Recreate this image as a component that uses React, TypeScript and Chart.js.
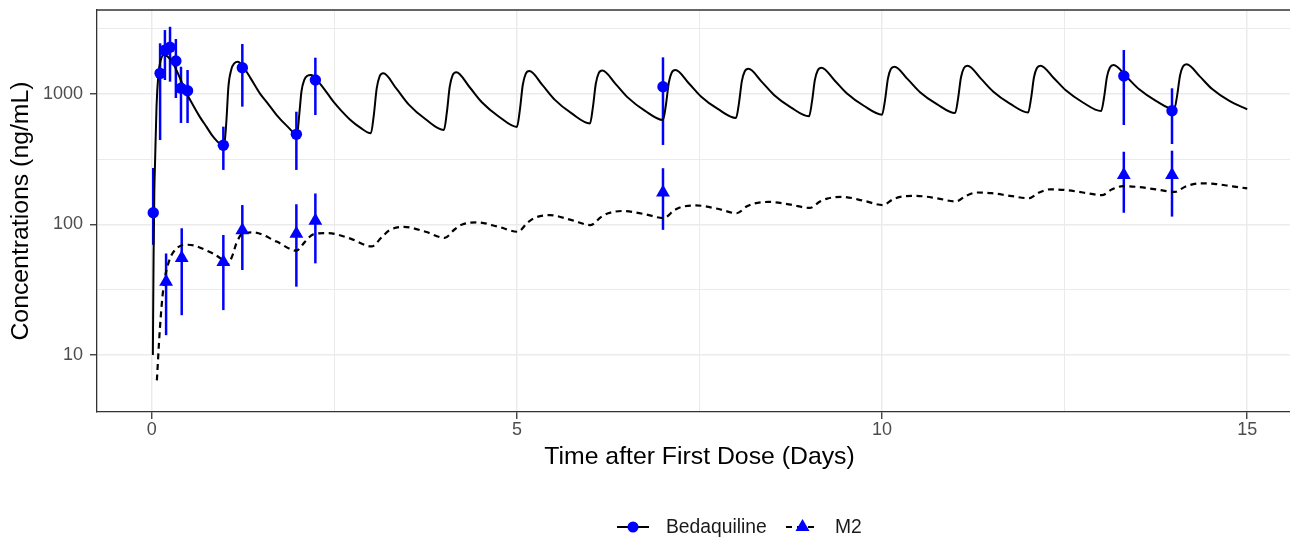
import React, { useEffect, useRef } from "react";
import { Chart, registerables } from "chart.js";

Chart.register(...registerables);

// ---- Simulated (model) profiles ----
const bdqModelTime = [
  0.015, 0.025, 0.035, 0.045, 0.065, 0.09, 0.12, 0.17, 0.22, 0.29, 0.38, 0.46, 0.56, 0.66, 0.75, 0.84, 0.99,
  1.02, 1.05, 1.09, 1.13, 1.18, 1.25, 1.35, 1.48, 1.6, 1.71, 1.85, 1.99,
  2.02, 2.05, 2.09, 2.13, 2.18, 2.3, 2.4, 2.49, 2.6, 2.72, 2.85,
  3, 3.04, 3.08, 3.12, 3.17, 3.35, 3.52, 3.75,
  4, 4.04, 4.08, 4.12, 4.17, 4.35, 4.52, 4.75,
  5, 5.04, 5.08, 5.12, 5.17, 5.35, 5.52, 5.75,
  6, 6.04, 6.08, 6.12, 6.17, 6.35, 6.52, 6.75,
  7, 7.04, 7.08, 7.12, 7.17, 7.35, 7.52, 7.75,
  8, 8.04, 8.08, 8.12, 8.17, 8.35, 8.52, 8.75,
  9, 9.04, 9.08, 9.12, 9.17, 9.35, 9.52, 9.75,
  10, 10.04, 10.08, 10.12, 10.17, 10.35, 10.52, 10.75,
  11, 11.04, 11.08, 11.12, 11.17, 11.35, 11.52, 11.75,
  12, 12.04, 12.08, 12.12, 12.17, 12.35, 12.52, 12.75,
  13, 13.04, 13.08, 13.12, 13.17, 13.35, 13.52, 13.75,
  14, 14.04, 14.08, 14.12, 14.17, 14.35, 14.52, 14.75,
  15,
];
const bdqModelConc = [
  10, 60, 180, 300, 800, 1400, 1800, 2000, 1930, 1720, 1350, 1060, 830, 665, 560, 471, 400,
  600, 1150, 1550, 1720, 1770, 1620, 1330, 1012, 830, 690, 570, 490,
  700, 1050, 1290, 1380, 1400, 1207, 1020, 870, 740, 632, 555,
  500, 687, 1104, 1365, 1440, 1099, 830, 640,
  530, 719, 1138, 1396, 1470, 1132, 865, 673,
  560, 752, 1172, 1429, 1500, 1169, 902, 710,
  595, 789, 1199, 1445, 1515, 1197, 938, 746,
  632, 824, 1225, 1462, 1527, 1216, 959, 769,
  655, 849, 1256, 1493, 1560, 1245, 984, 791,
  675, 873, 1282, 1521, 1590, 1271, 1009, 813,
  695, 895, 1312, 1556, 1620, 1300, 1033, 836,
  714, 918, 1337, 1578, 1645, 1318, 1047, 845,
  722, 925, 1343, 1581, 1650, 1327, 1062, 861,
  740, 944, 1358, 1596, 1665, 1349, 1086, 887,
  765, 971, 1387, 1626, 1690, 1365, 1091, 889,
  763,
];

const m2ModelTime = [
  0.07, 0.11, 0.16, 0.23, 0.32, 0.5, 0.73, 0.94,
  1.03, 1.1, 1.16, 1.25, 1.39, 1.71,
  1.98, 2.1, 2.21, 2.4, 2.72,
  3.01, 3.15, 3.25, 3.45, 3.75,
  4.01, 4.15, 4.25, 4.45, 4.75,
  5.01, 5.15, 5.25, 5.45, 5.75,
  6.01, 6.15, 6.25, 6.45, 6.75,
  7.01, 7.15, 7.25, 7.45, 7.75,
  8.01, 8.15, 8.25, 8.45, 8.75,
  9.01, 9.15, 9.25, 9.45, 9.75,
  10.01, 10.15, 10.25, 10.45, 10.75,
  11.01, 11.15, 11.3, 11.5, 11.75,
  12.01, 12.15, 12.3, 12.5, 12.75,
  13.01, 13.15, 13.3, 13.5, 13.75,
  14.01, 14.15, 14.35, 14.55, 14.8,
  15,
];
const m2ModelConc = [
  6.4, 15.6, 33, 51, 64, 70, 64, 55,
  49, 57, 72, 86, 87, 74,
  63, 74, 84, 86, 78,
  68, 80, 90, 96, 88,
  79, 92, 100, 104, 96,
  88, 104, 113, 118, 108,
  99, 114, 122, 127, 120,
  112, 128, 136, 140, 132,
  122, 138, 145, 149, 142,
  134, 150, 158, 163, 152,
  141, 156, 163, 166, 159,
  150, 166, 176, 174, 166,
  159, 176, 186, 184, 176,
  168, 186, 197, 194, 186,
  178, 195, 207, 205, 196,
  189,
];

// ---- Observed data (mean with error bars) ----
const bdqObsTime = [0.02, 0.114, 0.18, 0.25, 0.33, 0.4, 0.49, 0.98, 1.24, 1.98, 2.24, 7.0, 13.31, 13.97];
const bdqObsMean = [123, 1440, 2170, 2280, 1790, 1106, 1060, 405, 1590, 491, 1280, 1137, 1374, 745];
const bdqObsLow = [70, 444, 1280, 1243, 932, 600, 600, 262, 800, 262, 690, 407, 579, 414];
const bdqObsHigh = [271, 2446, 3090, 3275, 2640, 1618, 1527, 562, 2418, 732, 1898, 1910, 2173, 1106];

const m2ObsTime = [0.196, 0.41, 0.98, 1.24, 1.98, 2.24, 7.0, 13.31, 13.97];
const m2ObsMean = [36.5, 55.4, 51.6, 90.3, 85, 107, 176, 240, 240];
const m2ObsLow = [14.2, 20.2, 22.1, 44.8, 33.4, 50.4, 91, 123, 115];
const m2ObsHigh = [60, 93.6, 83.1, 141, 143, 173, 270, 361, 368];

// ---- Axes ----
const xTickValues = [0, 2.5, 5, 7.5, 10, 12.5, 15];
const xMajorTicks = [0, 5, 10, 15];
const yTickValues = [10, 31.62, 100, 316.2, 1000, 3162];
const yMajorTicks = [10, 100, 1000];

const xTitle = "Time after First Dose (Days)";
const yTitle = "Concentrations (ng/mL)";
const seriesNames = ["Bedaquiline", "M2"];

const FONT = "'Liberation Sans', Arial, Helvetica, sans-serif";
const BLUE = "#0000ff";

const isIn = (list: number[], v: number) => list.some((m) => Math.abs(m - v) < 1e-6);

const errorBarPlugin = {
  id: "errorBars",
  beforeDatasetsDraw(chart: any) {
    const { ctx, scales } = chart;
    const x = scales.x;
    const y = scales.y;
    ctx.save();
    ctx.strokeStyle = BLUE;
    ctx.lineWidth = 2.5;
    const draw = (ts: number[], lo: number[], hi: number[]) => {
      ts.forEach((t, i) => {
        const px = x.getPixelForValue(t);
        ctx.beginPath();
        ctx.moveTo(px, y.getPixelForValue(lo[i]));
        ctx.lineTo(px, y.getPixelForValue(hi[i]));
        ctx.stroke();
      });
    };
    draw(bdqObsTime, bdqObsLow, bdqObsHigh);
    draw(m2ObsTime, m2ObsLow, m2ObsHigh);
    ctx.restore();
  },
};

const topBorderPlugin = {
  id: "topBorder",
  afterDraw(chart: any) {
    const { ctx, chartArea } = chart;
    ctx.save();
    ctx.strokeStyle = "#333333";
    ctx.lineWidth = 1.3;
    ctx.beginPath();
    ctx.moveTo(chartArea.left, chartArea.top);
    ctx.lineTo(chartArea.right + 2, chartArea.top);
    ctx.stroke();
    ctx.restore();
  },
};

export default function App() {
  const canvasRef = useRef<HTMLCanvasElement | null>(null);

  useEffect(() => {
    if (!canvasRef.current) return;
    const chart = new Chart(canvasRef.current, {
      type: "scatter",
      data: {
        datasets: [
          {
            label: seriesNames[0],
            data: bdqObsTime.map((t, i) => ({ x: t, y: bdqObsMean[i] })),
            showLine: false,
            pointStyle: "circle",
            pointRadius: 5.7,
            backgroundColor: BLUE,
            borderColor: BLUE,
            borderWidth: 0,
            order: 0,
          },
          {
            label: seriesNames[1],
            data: m2ObsTime.map((t, i) => ({ x: t, y: m2ObsMean[i] })),
            showLine: false,
            pointStyle: "triangle",
            pointRadius: 8,
            backgroundColor: BLUE,
            borderColor: BLUE,
            borderWidth: 0,
            order: 0,
          },
          {
            label: seriesNames[0] + " model",
            data: bdqModelTime.map((t, i) => ({ x: t, y: bdqModelConc[i] })),
            showLine: true,
            pointRadius: 0,
            borderColor: "#000000",
            borderWidth: 2,
            cubicInterpolationMode: "monotone",
            order: 1,
          },
          {
            label: seriesNames[1] + " model",
            data: m2ModelTime.map((t, i) => ({ x: t, y: m2ModelConc[i] })),
            showLine: true,
            pointRadius: 0,
            borderColor: "#000000",
            borderWidth: 2.2,
            borderDash: [6, 4.5],
            cubicInterpolationMode: "monotone",
            order: 1,
          },
        ],
      },
      options: {
        responsive: true,
        maintainAspectRatio: false,
        animation: false,
        events: [],
        layout: { autoPadding: false, padding: { top: 10, left: 0, right: 0, bottom: 0 } },
        plugins: {
          legend: { display: false },
          tooltip: { enabled: false },
        },
        scales: {
          x: {
            type: "linear",
            min: -0.75,
            max: 15.75,
            afterBuildTicks: (scale: any) => {
              scale.ticks = xTickValues.map((v) => ({ value: v }));
            },
            afterFit: (scale: any) => {
              scale.height = 128;
              scale.paddingLeft = 0;
              scale.paddingRight = 0;
              scale.paddingTop = 0;
              scale.paddingBottom = 0;
            },
            ticks: {
              autoSkip: false,
              maxRotation: 0,
              padding: 2.5,
              color: "#4d4d4d",
              font: { family: FONT, size: 18, lineHeight: 1 },
              callback: (v: any) => (isIn(xMajorTicks, Number(v)) ? String(v) : ""),
            },
            grid: {
              color: "#ebebeb",
              lineWidth: (ctx: any) => (ctx.tick && isIn(xMajorTicks, ctx.tick.value) ? 1.5 : 1),
              tickColor: (ctx: any) =>
                ctx.tick && isIn(xMajorTicks, ctx.tick.value) ? "#333333" : "rgba(0,0,0,0)",
              tickLength: 7,
              tickWidth: 1.3,
            },
            border: { display: true, color: "#333333", width: 1.3 },
            title: {
              display: true,
              text: xTitle,
              color: "#000000",
              font: { family: FONT, size: 24.8 },
              padding: { top: 0, bottom: 68 },
            },
          },
          y: {
            type: "logarithmic",
            min: 3.66,
            max: 4403,
            afterBuildTicks: (scale: any) => {
              scale.ticks = yTickValues.map((v) => ({ value: v }));
            },
            afterFit: (scale: any) => {
              scale.width = 97;
              scale.paddingLeft = 0;
              scale.paddingRight = 0;
              scale.paddingTop = 0;
              scale.paddingBottom = 0;
            },
            ticks: {
              autoSkip: false,
              padding: 7,
              color: "#4d4d4d",
              font: { family: FONT, size: 18, lineHeight: 1 },
              callback: (v: any) => (isIn(yMajorTicks, Number(v)) ? String(v) : ""),
            },
            grid: {
              color: "#ebebeb",
              lineWidth: (ctx: any) => (ctx.tick && isIn(yMajorTicks, ctx.tick.value) ? 1.5 : 1),
              tickColor: (ctx: any) =>
                ctx.tick && isIn(yMajorTicks, ctx.tick.value) ? "#333333" : "rgba(0,0,0,0)",
              tickLength: 7,
              tickWidth: 1.3,
            },
            border: { display: true, color: "#333333", width: 1.3 },
            title: {
              display: true,
              text: yTitle,
              color: "#000000",
              font: { family: FONT, size: 24.8 },
              padding: { top: 6.5, bottom: 0 },
            },
          },
        },
      } as any,
      plugins: [errorBarPlugin, topBorderPlugin],
    } as any);
    return () => chart.destroy();
  }, []);

  const legendText: React.CSSProperties = {
    position: "absolute",
    top: 517,
    height: 20,
    lineHeight: "20px",
    fontFamily: FONT,
    fontSize: 19.3,
    color: "#1a1a1a",
    whiteSpace: "nowrap",
  };

  return (
    <div
      style={{
        position: "absolute",
        left: 0,
        top: 0,
        width: 1290,
        height: 540,
        overflow: "hidden",
        background: "#ffffff",
      }}
    >
      <div style={{ position: "absolute", left: 0, top: 0, width: 1302, height: 540 }}>
        <canvas ref={canvasRef} />
      </div>
      <svg style={{ position: "absolute", left: 617, top: 517 }} width={32} height={20}>
        <line x1={0} y1={10} x2={32} y2={10} stroke="#000" strokeWidth={2} />
        <circle cx={16} cy={10} r={5.5} fill={BLUE} />
      </svg>
      <div style={{ ...legendText, left: 666 }}>{seriesNames[0]}</div>
      <svg style={{ position: "absolute", left: 786, top: 517 }} width={33} height={20}>
        <line x1={0} y1={10} x2={33} y2={10} stroke="#000" strokeWidth={2} strokeDasharray="6 5" />
        <polygon points="16.5,2 23.5,14 9.5,14" fill={BLUE} />
      </svg>
      <div style={{ ...legendText, left: 835 }}>{seriesNames[1]}</div>
    </div>
  );
}
